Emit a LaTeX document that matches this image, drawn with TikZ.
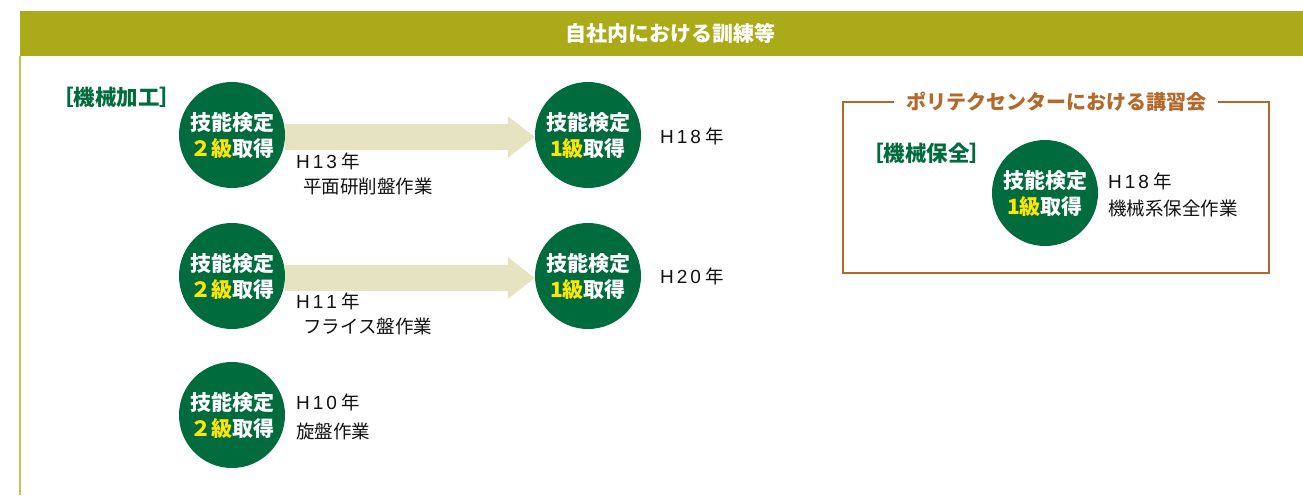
\documentclass[tikz,border=0pt]{standalone}
\usepackage{fontspec}
\setmainfont{Noto Sans CJK JP}
\newfontfamily\latinfont{Liberation Sans}
\usetikzlibrary{arrows.meta}
\definecolor{hdrolive}{HTML}{ABAA19}
\definecolor{sideline}{HTML}{C3C150}
\definecolor{cgreen}{HTML}{006B3C}
\definecolor{lvyellow}{HTML}{FFE600}
\definecolor{arrowbeige}{HTML}{E6E3C0}
\definecolor{boxbrown}{HTML}{B3692A}
\definecolor{labelblack}{HTML}{111111}
\newcommand\lv[1]{\textcolor{lvyellow}{#1}}
\newcommand\yrlabel[2]{{\latinfont\fontsize{19}{22}\selectfont H\hspace{3pt}#1\hspace{3pt}#2}\hspace{4pt}年}
\tikzset{
  badge/.style={circle, fill=cgreen, minimum size=106pt, inner sep=0pt, text=white,
    align=center, font=\bfseries\fontsize{21}{26}\selectfont},
  note/.style={anchor=west, inner sep=0pt, text=labelblack, font=\fontsize{18.5}{22}\selectfont},
  cat/.style={anchor=west, inner sep=0pt, text=cgreen, font=\bfseries\fontsize{21.5}{24}\selectfont},
  bigarrow/.style={draw=arrowbeige, line width=26pt, line cap=butt,
    -{Triangle[length=27pt,width=40pt]}},
}
\begin{document}
\begin{tikzpicture}[x=1pt,y=-1pt]
\useasboundingbox (0,0) rectangle (1303,495);
% header bar
\node[fill=hdrolive, inner sep=0pt, minimum width=1283pt, minimum height=45pt, anchor=north west] (hdr) at (20,11) {};
\node[text=white, font=\bfseries\fontsize{21}{24}\selectfont, inner sep=0pt] (hdrtext) at (670,33) {自社内における訓練等};
% left side line
\coordinate (ltop) at (20,56);
\coordinate (lbot) at (20,495);
\draw[sideline, line width=2.5pt] (ltop) -- (lbot);

% category
\node[cat] (cat1) at (52,97) {［機械加工］};

% badges
\node[badge] (b1) at (232,135) {技能検定\\\lv{２級}取得};
\node[badge] (b2) at (588,135) {技能検定\\\lv{1級}取得};
\node[badge] (b3) at (232,276) {技能検定\\\lv{２級}取得};
\node[badge] (b4) at (588,276) {技能検定\\\lv{1級}取得};
\node[badge] (b5) at (232,415) {技能検定\\\lv{２級}取得};

% arrows
\draw[bigarrow] ([yshift=-2pt]b1.east) -- ([yshift=-2pt]b2.west);
\draw[bigarrow] ([yshift=-2pt]b3.east) -- ([yshift=-2pt]b4.west);

% notes
\node[note] (n1a) at (296,161) {\yrlabel{1}{3}};
\node[note] (n1b) at (303,186) {平面研削盤作業};
\node[note] (n2) at (660,136) {\yrlabel{1}{8}};
\node[note] (n3a) at (296,301) {\yrlabel{1}{1}};
\node[note] (n3b) at (303,326) {フライス盤作業};
\node[note] (n4) at (660,276) {\yrlabel{2}{0}};
\node[note] (n5a) at (296,402) {\yrlabel{1}{0}};
\node[note] (n5b) at (296,431) {旋盤作業};

% right box
\draw[boxbrown, line width=2.2pt] (843,102) rectangle (1269,273);
\node[fill=white, inner xsep=12pt, inner ysep=2pt, text=boxbrown, font=\bfseries\fontsize{20}{24}\selectfont] (boxtitle) at (1056,102) {ポリテクセンターにおける講習会};
\node[cat] (cat2) at (862,153) {［機械保全］};
\node[badge] (b6) at (1045,193) {技能検定\\\lv{1級}取得};
\node[note] (n6a) at (1108,181) {\yrlabel{1}{8}};
\node[note] (n6b) at (1108,208) {機械系保全作業};
\end{tikzpicture}
\end{document}
